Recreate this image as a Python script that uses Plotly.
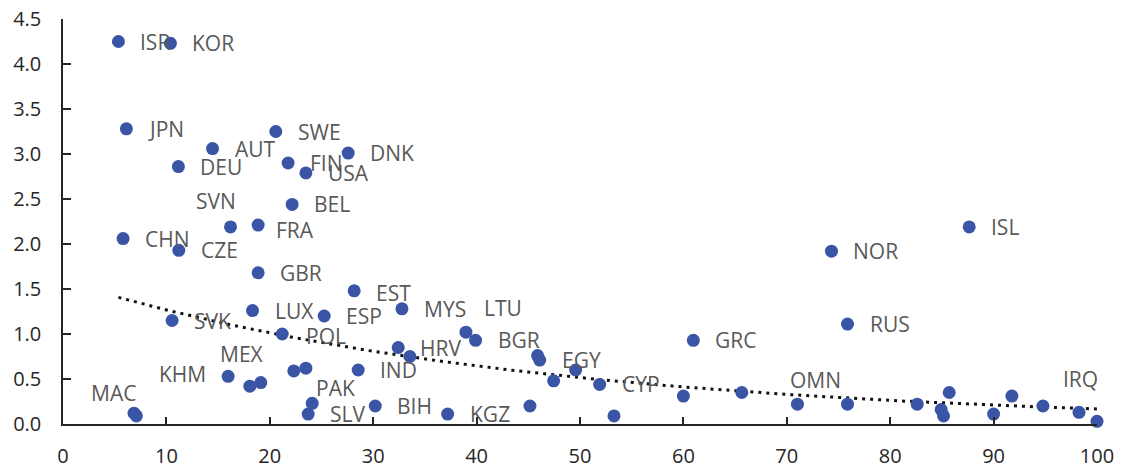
import numpy as np
import plotly.graph_objects as go

# ---- data ----
countries = ["ISR", "KOR", "JPN", "SWE", "AUT", "DNK", "DEU", "FIN", "USA", "BEL",
             "SVN", "FRA", "CHN", "CZE", "GBR", "EST", "SVK", "LUX", "ESP", "POL",
             "KHM", "MEX", "", "", "", "IND", "MAC", "", "PAK", "SLV",
             "BIH", "MYS", "LTU", "BGR", "HRV", "", "", "EGY", "", "",
             "CYP", "", "", "GRC", "KGZ", "", "", "ISL", "NOR", "RUS",
             "OMN", "", "", "", "", "", "", "", "", "",
             "IRQ"]
x_vals = [5.36, 10.39, 6.13, 20.58, 14.46, 27.58, 11.16, 21.77, 23.49, 22.16,
          16.2, 18.87, 5.81, 11.2, 18.87, 28.16, 10.55, 18.33, 25.26, 21.2,
          15.97, 18.07, 19.13, 22.32, 23.49, 28.55, 6.87, 7.1, 24.1, 23.71,
          30.2, 32.78, 38.97, 39.9, 32.42, 33.55, 45.9, 46.1, 49.58, 47.45,
          51.9, 60.0, 65.65, 60.96, 37.2, 45.16, 53.29, 87.64, 74.32, 75.87,
          71.03, 75.87, 82.61, 84.93, 85.16, 85.71, 90.0, 91.77, 94.77, 98.26,
          100.0]
y_vals = [4.25, 4.23, 3.28, 3.25, 3.06, 3.01, 2.86, 2.90, 2.79, 2.44,
          2.19, 2.21, 2.06, 1.93, 1.68, 1.48, 1.15, 1.26, 1.20, 1.00,
          0.53, 0.42, 0.46, 0.59, 0.62, 0.60, 0.12, 0.09, 0.23, 0.11,
          0.20, 1.28, 1.02, 0.93, 0.85, 0.75, 0.76, 0.71, 0.60, 0.48,
          0.44, 0.31, 0.35, 0.93, 0.11, 0.20, 0.09, 2.19, 1.92, 1.11,
          0.22, 0.22, 0.22, 0.16, 0.09, 0.35, 0.11, 0.31, 0.20, 0.13,
          0.03]

x_ticks = [0, 10, 20, 30, 40, 50, 60, 70, 80, 90, 100]
y_ticks = [0.0, 0.5, 1.0, 1.5, 2.0, 2.5, 3.0, 3.5, 4.0, 4.5]

# ---- label placement (pixel offsets from the marker, style only) ----
DEFAULT_OFFSET = (21, 0)
label_offsets = {
    "SVN": (-36, -26), "FRA": (17, 5), "POL": (23, 2), "MEX": (-31, -32),
    "KHM": (-70, -2), "MAC": (-44, -20), "PAK": (3, -15), "LTU": (17, -24),
    "OMN": (-8, -24), "IRQ": (-35, -42), "EST": (21, 2),
}

BLUE = "#3A55A6"
LABEL_GREY = "#595959"
AXIS = "#262626"
FONT = "Open Sans"

fig = go.Figure()

# exponential trendline fitted to the data (as a spreadsheet trendline would be)
xa = np.array(x_vals)
ya = np.array(y_vals)
b, a = np.polyfit(xa, np.log(ya), 1)
tx = np.linspace(xa.min(), xa.max(), 200)
ty = np.exp(a) * np.exp(b * tx)
fig.add_trace(go.Scatter(
    x=tx, y=ty, mode="lines",
    line=dict(color="#111111", width=3, dash="3px,5px"),
    hoverinfo="skip", showlegend=False,
))

fig.add_trace(go.Scatter(
    x=x_vals, y=y_vals, mode="markers",
    marker=dict(color=BLUE, size=13, line=dict(width=0)),
    text=countries, cliponaxis=False, showlegend=False,
))

annotations = []
for name, xv, yv in zip(countries, x_vals, y_vals):
    if not name:
        continue
    dx, dy = label_offsets.get(name, DEFAULT_OFFSET)
    annotations.append(dict(
        x=xv, y=yv, xref="x", yref="y", text=name, showarrow=False,
        xanchor="left", yanchor="middle", xshift=dx, yshift=-dy,
        borderpad=0,
        font=dict(family=FONT, size=21, color=LABEL_GREY),
    ))

# page body has an 8px margin, so the figure is sized to fit the window
fig.update_layout(
    width=1116, height=460,
    margin=dict(l=55, r=27, t=11, b=44, autoexpand=False),
    plot_bgcolor="white", paper_bgcolor="white",
    annotations=annotations,
    showlegend=False,
    font=dict(family=FONT, size=20, color=AXIS),
)
fig.update_xaxes(
    range=[0, 100], tickvals=x_ticks, ticktext=[str(v) for v in x_ticks],
    showgrid=False, zeroline=False, showline=True, linecolor=AXIS, linewidth=1.5,
    ticks="inside", ticklen=7, tickwidth=1.5, tickcolor=AXIS, automargin=False,
    ticklabelstandoff=13, ticklabeloverflow="allow",
    tickfont=dict(family=FONT, size=20, color=AXIS),
)
fig.update_yaxes(
    range=[0, 4.5], tickvals=y_ticks, ticktext=[f"{v:.1f}" for v in y_ticks],
    showgrid=False, zeroline=False, showline=True, linecolor=AXIS, linewidth=1.5,
    ticks="inside", ticklen=8, tickwidth=1.5, tickcolor=AXIS, automargin=False,
    ticklabelstandoff=16, ticklabeloverflow="allow",
    tickfont=dict(family=FONT, size=20, color=AXIS),
)

fig.write_html("out.html")
